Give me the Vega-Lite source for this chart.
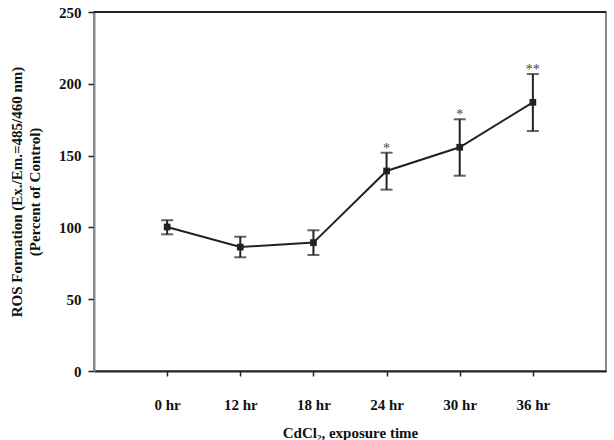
{
  "$schema": "https://vega.github.io/schema/vega-lite/v6.json",
  "width": 512,
  "height": 359,
  "autosize": "none",
  "padding": {"left": 94, "top": 12, "right": 8, "bottom": 69},
  "background": "white",
  "data": {
    "values": [
      {"time": "0 hr", "mean": 100.3, "lo": 95.2, "hi": 105.0, "sig": ""},
      {"time": "12 hr", "mean": 86.3, "lo": 79.2, "hi": 93.5, "sig": ""},
      {"time": "18 hr", "mean": 89.4, "lo": 80.8, "hi": 98.0, "sig": ""},
      {"time": "24 hr", "mean": 139.3, "lo": 126.3, "hi": 152.0, "sig": "*"},
      {"time": "30 hr", "mean": 155.8, "lo": 136.0, "hi": 175.3, "sig": "*"},
      {"time": "36 hr", "mean": 187.1, "lo": 167.1, "hi": 206.8, "sig": "**"}
    ]
  },
  "config": {
    "view": {"stroke": "#8a8a8a", "strokeWidth": 2},
    "font": "Liberation Serif"
  },
  "layer": [
    {
      "mark": {"type": "rule", "color": "#222", "strokeWidth": 2},
      "encoding": {"y": {"datum": 250, "type": "quantitative", "scale": {"domain": [0, 250], "nice": false}}}
    },
    {
      "mark": {"type": "rule", "color": "#222", "strokeWidth": 2},
      "encoding": {
        "x": {
          "field": "time", "type": "ordinal", "sort": null,
          "scale": {"type": "point", "padding": 1},
          "axis": {
            "title": "CdCl₂, exposure time",
            "titleFont": "Liberation Serif", "titleFontSize": 15, "titleFontWeight": "bold", "titleColor": "#111",
            "titlePadding": 13,
            "labelFont": "Liberation Serif", "labelFontSize": 15, "labelFontWeight": "bold", "labelColor": "#111",
            "labelAngle": 0, "labelPadding": 21,
            "domainColor": "#222", "domainWidth": 2,
            "tickColor": "#222", "tickWidth": 1.5, "tickSize": 5
          }
        },
        "y": {"field": "lo", "type": "quantitative", "scale": {"domain": [0, 250], "nice": false}},
        "y2": {"field": "hi"}
      }
    },
    {
      "mark": {"type": "tick", "color": "#222", "thickness": 2, "size": 12, "orient": "horizontal"},
      "encoding": {
        "x": {"field": "time", "type": "ordinal", "sort": null},
        "y": {"field": "lo", "type": "quantitative", "scale": {"domain": [0, 250], "nice": false}}
      }
    },
    {
      "mark": {"type": "tick", "color": "#222", "thickness": 2, "size": 12, "orient": "horizontal"},
      "encoding": {
        "x": {"field": "time", "type": "ordinal", "sort": null},
        "y": {"field": "hi", "type": "quantitative", "scale": {"domain": [0, 250], "nice": false}}
      }
    },
    {
      "mark": {"type": "line", "color": "#222", "strokeWidth": 2},
      "encoding": {
        "x": {"field": "time", "type": "ordinal", "sort": null},
        "y": {
          "field": "mean", "type": "quantitative",
          "scale": {"domain": [0, 250], "nice": false},
          "axis": {
            "title": ["ROS Formation (Ex./Em.=485/460 nm)", "(Percent of Control)"],
            "titleFont": "Liberation Serif", "titleFontSize": 15, "titleFontWeight": "bold", "titleColor": "#111",
            "titleLineHeight": 18, "titlePadding": 16,
            "labelFont": "Liberation Serif", "labelFontSize": 15, "labelFontWeight": "bold", "labelColor": "#111",
            "labelPadding": 7,
            "values": [0, 50, 100, 150, 200, 250],
            "grid": false,
            "domainColor": "#8a8a8a", "domainWidth": 2,
            "tickColor": "#222", "tickWidth": 1.5, "tickSize": 6
          }
        }
      }
    },
    {
      "mark": {"type": "square", "color": "#222", "size": 45, "opacity": 1, "filled": true},
      "encoding": {
        "x": {"field": "time", "type": "ordinal", "sort": null},
        "y": {"field": "mean", "type": "quantitative", "scale": {"domain": [0, 250], "nice": false}}
      }
    },
    {
      "mark": {"type": "text", "color": "#444", "fontSize": 14, "font": "Liberation Serif", "baseline": "bottom", "dy": 3},
      "encoding": {
        "x": {"field": "time", "type": "ordinal", "sort": null},
        "y": {"field": "hi", "type": "quantitative", "scale": {"domain": [0, 250], "nice": false}},
        "text": {"field": "sig"}
      }
    }
  ]
}
